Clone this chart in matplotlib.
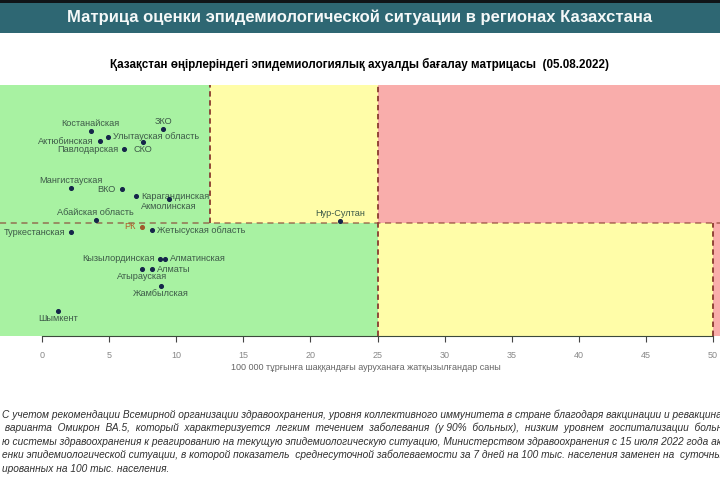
import matplotlib
matplotlib.use("Agg")
import matplotlib.pyplot as plt
from matplotlib.patches import Rectangle

# regions: x = hospitalised per 100k, y = matrix second indicator
regions = ["Костанайская", "ЗКО", "Улытауская область", "Актюбинская", "СКО",
           "Павлодарская", "Мангистауская", "ВКО", "Карагандинская", "Акмолинская",
           "Абайская область", "РК", "Жетысуская область", "Туркестанская",
           "Кызылординская", "Алматинская", "Атырауская", "Алматы", "Жамбылская",
           "Шымкент", "Нур-Султан"]
x_vals = [3.63, 9.02, 4.90, 4.32, 7.50, 6.11, 2.16, 5.94, 7.00, 9.46,
          4.00, 7.43, 8.20, 2.16, 8.82, 9.14, 7.47, 8.22, 8.85, 1.21, 22.2]
y_vals = [9.03, 9.13, 8.77, 8.58, 8.55, 8.26, 6.52, 6.46, 6.15, 6.02,
          5.12, 4.82, 4.65, 4.57, 3.41, 3.41, 2.95, 2.95, 2.21, 1.11, 5.05]
# where each label sits relative to its dot
where = ["up", "up", "right", "left", "down", "left", "up", "left", "right", "down",
         "up", "left", "right", "left", "left", "right", "down", "right", "down",
         "down", "up"]

x_ticks = [0, 5, 10, 15, 20, 25, 30, 35, 40, 45, 50]
x_thr1, x_thr2, x_thr3 = 12.5, 25, 50
y_thr = 5

title = "Матрица оценки эпидемиологической ситуации в регионах Казахстана"
subtitle = "Қазақстан өңірлеріндегі эпидемиологиялық ахуалды бағалау матрицасы  (05.08.2022)"
xlabel = "100 000 тұрғынға шаққандағы ауруханаға жатқызылғандар саны"
para = [
    "С учетом рекомендации Всемирной организации здравоохранения, уровня коллективного иммунитета в стране благодаря вакцинации и ревакцинации",
    " варианта  Омикрон  ВА.5,  который  характеризуется  легким  течением  заболевания  (у 90%  больных),  низким  уровнем  госпитализации  больных",
    "ю системы здравоохранения к реагированию на текущую эпидемиологическую ситуацию, Министерством здравоохранения с 15 июля 2022 года актуализирована",
    "енки эпидемиологической ситуации, в которой показатель  среднесуточной заболеваемости за 7 дней на 100 тыс. населения заменен на  суточные",
    "ированных на 100 тыс. населения.",
]

GREEN = "#a8f2a2"
YELLOW = "#fffda8"
RED = "#f9adab"
DASH = "#8a3b30"

W, H = 720, 487
fig = plt.figure(figsize=(7.2, 4.87), dpi=100)
fig.patch.set_facecolor("white")

# header bar
fig.patches.append(Rectangle((0, 1 - 33 / H), 1, 30 / H, transform=fig.transFigure,
                             facecolor="#2e6773", edgecolor="none"))
fig.patches.append(Rectangle((0, 1 - 3 / H), 1, 3 / H, transform=fig.transFigure,
                             facecolor="#101418", edgecolor="none"))
fig.text(0.5, 1 - 17 / H, title, color="#f4f8f8", fontsize=12, ha="center", va="center",
         family="Liberation Sans", fontweight="bold")
fig.text(0.5, 1 - 64 / H, subtitle, color="black", fontsize=8.4, ha="center", va="center",
         family="Liberation Sans", fontweight="bold")

ax = fig.add_axes([0, 1 - 336 / H, 1, (336 - 85) / H])
x0, x1 = -3.13, 50.52
y0, y1 = 0, 11.06
ax.set_xlim(x0, x1)
ax.set_ylim(y0, y1)

# colour zones
ax.fill_between([x0, x_thr1], y_thr, y1, color=GREEN, lw=0)
ax.fill_between([x_thr1, x_thr2], y_thr, y1, color=YELLOW, lw=0)
ax.fill_between([x_thr2, x1], y_thr, y1, color=RED, lw=0)
ax.fill_between([x0, x_thr2], y0, y_thr, color=GREEN, lw=0)
ax.fill_between([x_thr2, x_thr3], y0, y_thr, color=YELLOW, lw=0)
ax.fill_between([x_thr3, x1], y0, y_thr, color=RED, lw=0)

ax.axhline(y_thr, color=DASH, ls=(0, (4, 3)), lw=1.1, alpha=0.7)
ax.plot([x_thr1, x_thr1], [y_thr, y1], color=DASH, ls=(0, (3, 2)), lw=1.3)
ax.plot([x_thr2, x_thr2], [y0, y1], color=DASH, ls=(0, (3, 2)), lw=1.3)
ax.plot([x_thr3, x_thr3], [y0, y_thr], color=DASH, ls=(0, (3, 2)), lw=1.3)

offs = {"up": (0, 3, "center", "bottom"), "down": (0, -3, "center", "top"),
        "left": (-6, 0, "right", "center"), "right": (5, 0, "left", "center")}
for name, xv, yv, w in zip(regions, x_vals, y_vals, where):
    c = "#a05a2c" if name == "РК" else "#15254a"
    tc = "#b0602a" if name == "РК" else "#3d5a48"
    ax.scatter(xv, yv, s=7, color=c, zorder=5)
    dx, dy, ha, va = offs[w]
    if name == "Павлодарская":
        dy = -1
    ax.annotate(name, (xv, yv), xytext=(dx, dy), textcoords="offset pixels",
                ha=ha, va=va, fontsize=6.6, color=tc, family="Liberation Sans")

for s in ["top", "left", "right"]:
    ax.spines[s].set_visible(False)
ax.spines["bottom"].set_bounds(0, 50)
ax.spines["bottom"].set_color("#3c4a3c")
ax.set_yticks([])
ax.set_xticks(x_ticks)
ax.tick_params(axis="x", length=4, color="#444444", labelsize=6.5, labelcolor="#888888",
               pad=7)
for lab in ax.get_xticklabels():
    lab.set_family("Liberation Sans")

fig.text(366 / W, 1 - 368 / H, xlabel, fontsize=6.5, color="#666666", ha="center",
         va="center", family="Liberation Sans")

line_y = [415, 428, 442, 455, 469]
for txt, ly in zip(para, line_y):
    fig.text(2 / W, 1 - ly / H, txt, fontsize=7.3, color="#303030", ha="left", va="center",
             style="italic", family="Liberation Sans")

fig.savefig("out.png", dpi=100)
